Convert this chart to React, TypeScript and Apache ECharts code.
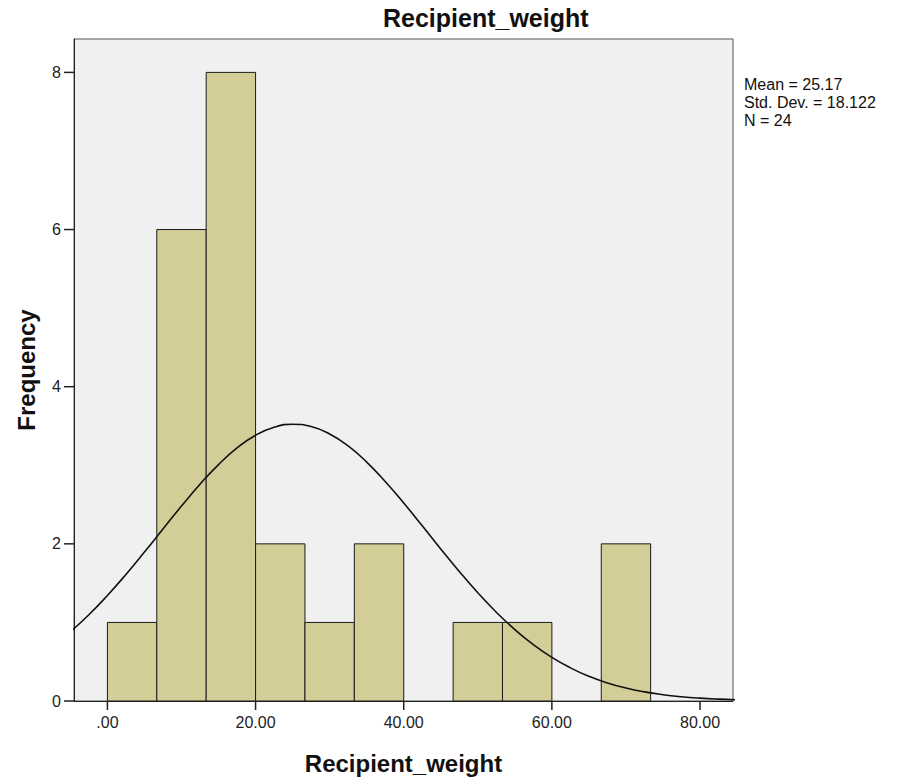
import React, { useEffect, useRef } from "react";
import * as echarts from "echarts";

const titleText = "Recipient_weight";
const xAxisName = "Recipient_weight";
const yAxisName = "Frequency";

const binWidth = 20 / 3;
const binStarts = [0, 6.667, 13.333, 20, 26.667, 33.333, 40, 46.667, 53.333, 60, 66.667];
const counts = [1, 6, 8, 2, 1, 2, 0, 1, 1, 0, 2];

const xTicks = [0, 20, 40, 60, 80];
const yTicks = [0, 2, 4, 6, 8];

const curveX = [
  -5, -2.5, 0, 2.5, 5, 7.5, 10, 12.5, 15, 17.5, 20, 22.5, 25, 27.5, 30, 32.5, 35, 37.5, 40,
  42.5, 45, 47.5, 50, 52.5, 55, 57.5, 60, 62.5, 65, 67.5, 70, 72.5, 75, 77.5, 80, 82.5, 85,
];
const curveY = [
  0.881, 1.098, 1.343, 1.611, 1.896, 2.189, 2.481, 2.759, 3.009, 3.22, 3.382, 3.484, 3.522,
  3.493, 3.399, 3.246, 3.04, 2.794, 2.52, 2.23, 1.935, 1.649, 1.378, 1.13, 0.909, 0.717, 0.555,
  0.422, 0.3145, 0.23, 0.165, 0.116, 0.0803, 0.0545, 0.0362, 0.0236, 0.0151,
];

const statsLines = ["Mean = 25.17", "Std. Dev. = 18.122", "N = 24"];

const FONT = "'Liberation Sans', Arial, Helvetica, sans-serif";
const X_MIN = -4.51;
const X_MAX = 84.45;
const Y_MAX = 8.425;

export default function App() {
  const ref = useRef<HTMLDivElement>(null);

  useEffect(() => {
    if (!ref.current) return;
    const chart = echarts.init(ref.current, undefined, { renderer: "svg" });

    const barData = binStarts
      .map((s, i) => [s, s + binWidth, counts[i]])
      .filter((d) => d[2] > 0);
    const lineData = curveX.map((x, i) => [x, curveY[i]]);

    chart.setOption({
      animation: false,
      backgroundColor: "#ffffff",
      title: {
        text: titleText,
        left: 383,
        top: 5,
        padding: 0,
        textStyle: { fontFamily: FONT, fontSize: 25, fontWeight: "bold", color: "#111" },
      },
      grid: {
        left: 74,
        right: 170,
        top: 39,
        bottom: 77,
        show: true,
        backgroundColor: "#f0f0f0",
        borderColor: "#555",
        borderWidth: 1,
        containLabel: false,
        outerBoundsMode: "none",
      },
      xAxis: {
        type: "value",
        min: X_MIN,
        max: X_MAX,
        name: xAxisName,
        nameLocation: "middle",
        nameGap: 50,
        nameTextStyle: { fontFamily: FONT, fontSize: 24, fontWeight: "bold", color: "#111" },
        splitLine: { show: false },
        axisLine: { show: true, onZero: false, lineStyle: { color: "#222", width: 1 } },
        axisTick: { show: false },
        axisLabel: {
          customValues: xTicks,
          margin: 13,
          fontFamily: FONT,
          fontSize: 16,
          color: "#222",
          formatter: (v: number) => (v === 0 ? ".00" : v.toFixed(2)),
        },
      },
      yAxis: {
        type: "value",
        min: 0,
        max: Y_MAX,
        name: yAxisName,
        nameLocation: "middle",
        nameRotate: 90,
        nameGap: 36,
        nameTextStyle: { fontFamily: FONT, fontSize: 24, fontWeight: "bold", color: "#111" },
        splitLine: { show: false },
        axisLine: { show: true, onZero: false, lineStyle: { color: "#222", width: 1 } },
        axisTick: { show: false },
        axisLabel: {
          customValues: yTicks,
          margin: 13,
          fontFamily: FONT,
          fontSize: 16,
          color: "#222",
          formatter: (v: number) => String(v),
        },
      },
      graphic: statsLines.map((t, i) => ({
        type: "text",
        left: 744,
        top: 75 + i * 18.4,
        style: {
          text: t,
          font: `16px ${FONT}`,
          lineHeight: 18,
          fill: "#111",
        },
      })),
      series: [
        {
          type: "custom",
          z: 2,
          encode: { x: [0, 1], y: 2 },
          data: barData,
          renderItem: (params: any, api: any) => {
            const p0 = api.coord([api.value(0), api.value(2)]);
            const p1 = api.coord([api.value(1), 0]);
            return {
              type: "rect",
              shape: { x: p0[0], y: p0[1], width: p1[0] - p0[0], height: p1[1] - p0[1] },
              style: { fill: "#d3ce97", stroke: "#1a1a1a", lineWidth: 1 },
            };
          },
        },
        {
          type: "line",
          z: 3,
          data: lineData,
          smooth: true,
          showSymbol: false,
          symbol: "none",
          clip: true,
          lineStyle: { color: "#111", width: 1.6 },
        },
        {
          // x-axis tick marks
          type: "custom",
          z: 4,
          clip: false,
          silent: true,
          encode: { x: 0 },
          data: xTicks.map((v) => [v]),
          renderItem: (params: any, api: any) => {
            const p = api.coord([api.value(0), 0]);
            return {
              type: "line",
              shape: { x1: p[0], y1: p[1], x2: p[0], y2: p[1] + 9 },
              style: { stroke: "#222", lineWidth: 1.5 },
            };
          },
        },
        {
          // y-axis tick marks
          type: "custom",
          z: 4,
          clip: false,
          silent: true,
          encode: { y: 0 },
          data: yTicks.map((v) => [X_MIN, v]),
          renderItem: (params: any, api: any) => {
            const p = api.coord([X_MIN, api.value(1)]);
            return {
              type: "line",
              shape: { x1: p[0] - 10, y1: p[1], x2: p[0], y2: p[1] },
              style: { stroke: "#222", lineWidth: 1.5 },
            };
          },
        },
      ],
    });

    return () => chart.dispose();
  }, []);

  return (
    <div
      ref={ref}
      style={{ position: "absolute", left: 0, top: 0, width: 903, height: 778 }}
    />
  );
}
